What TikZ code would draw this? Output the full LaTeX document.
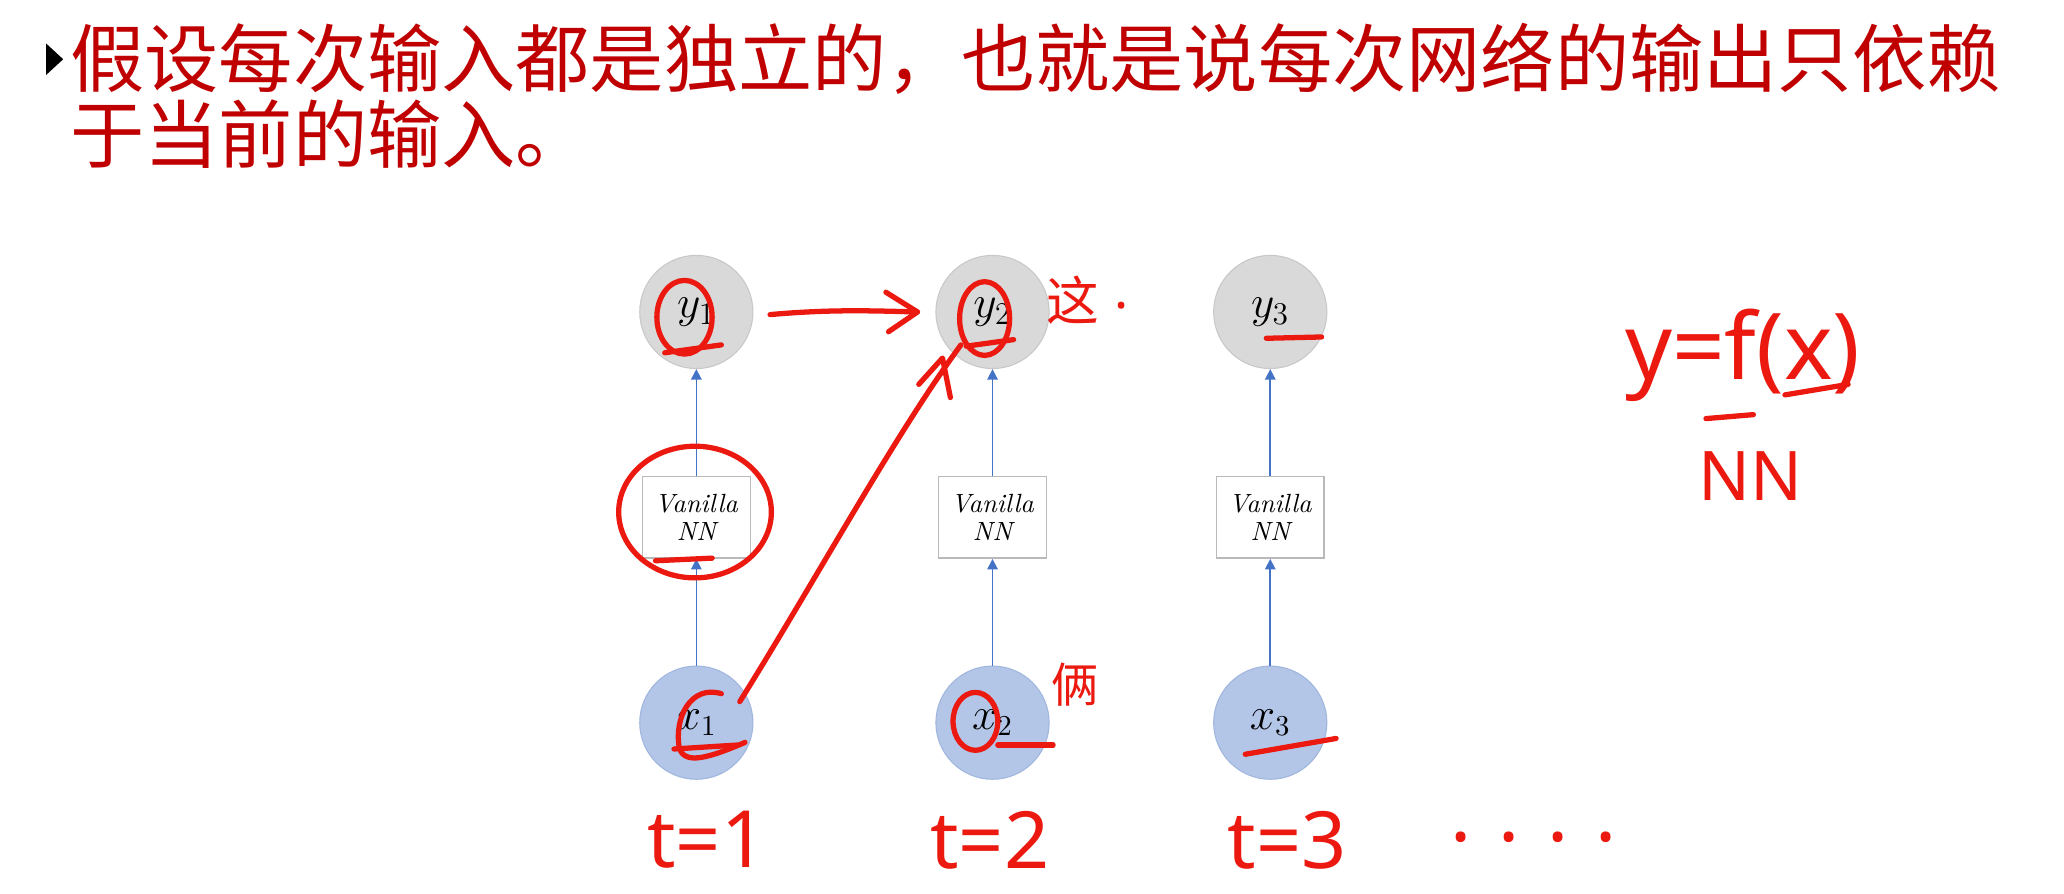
\documentclass[tikz,border=0pt]{standalone}
\usepackage{fontspec}
\newfontfamily\cjk{Noto Sans CJK SC}
\newfontfamily\hand{Noto Sans}
\usetikzlibrary{arrows.meta}
\definecolor{titlered}{RGB}{192,0,0}
\definecolor{penred}{RGB}{235,25,15}
\definecolor{yfill}{RGB}{217,217,217}
\definecolor{ydraw}{RGB}{200,200,200}
\definecolor{xfill}{RGB}{180,198,231}
\definecolor{xdraw}{RGB}{160,182,222}
\definecolor{flowblue}{RGB}{68,114,196}
\definecolor{boxdraw}{RGB}{185,185,185}
\tikzset{
  ynode/.style={circle,fill=yfill,draw=ydraw,line width=0.4pt,minimum size=43pt,inner sep=0pt,font=\fontsize{17}{17}\selectfont},
  xnode/.style={circle,fill=xfill,draw=xdraw,line width=0.4pt,minimum size=43pt,inner sep=0pt,font=\fontsize{16}{16}\selectfont},
  nnbox/.style={rectangle,draw=boxdraw,fill=white,line width=0.6pt,minimum width=41pt,minimum height=31pt,inner sep=0pt,align=center,font=\fontsize{10}{10.5}\selectfont\itshape},
  flow/.style={draw=flowblue,line width=0.6pt,-{Triangle[length=4pt,width=4pt]}},
  pen/.style={draw=penred,line width=2pt,line cap=round,line join=round},
  handtxt/.style={text=penred,inner sep=0pt},
  title/.style={text=titlered,anchor=west,inner sep=0pt,font=\cjk\fontsize{28.2}{28.2}\selectfont}
}
\begin{document}
\begin{tikzpicture}[x=0.5pt,y=-0.5pt]
\useasboundingbox[fill=white] (0,0) rectangle (1568,679);
% bullet and title
\fill[black] (35,33) -- (48,45) -- (35,57) -- cycle;
\node[title] (l1) at (53,45) {假设每次输入都是独立的，也就是说每次网络的输出只依赖};
\node[title] (l2) at (53,102) {于当前的输入。};
% diagram nodes
\foreach \i/\xx in {1/529,2/754,3/965}{
  \node[ynode] (y\i) at (\xx,237) {$y_{\i}$};
  \node[nnbox] (b\i) at (\xx,393) {Vanilla\\NN};
  \node[xnode] (x\i) at (\xx,549) {$x_{\i}$};
  \draw[flow] (x\i) -- (b\i);
  \draw[flow] (b\i) -- (y\i);
}
% handwritten annotations
\draw[pen] (520,241) ellipse [x radius=10.5pt, y radius=14pt];
\draw[pen] (505,268) -- (548,262);
\draw[pen] (585,239) .. controls (630,235) and (660,236) .. (697,237);
\draw[pen] (673,222) -- (697,237) -- (675,252);
\draw[pen] (748,242) ellipse [x radius=9.5pt, y radius=14pt];
\draw[pen] (734,263) -- (770,258);
\node[handtxt,font=\cjk\fontsize{20}{20}\selectfont] (zhe) at (815,228) {这};
\node[handtxt,font=\hand\fontsize{20}{20}\selectfont] (dot) at (852,232) {.};
\draw[pen] (562,533) .. controls (620,440) and (680,330) .. (730,262);
\draw[pen] (698,292) -- (716,272) -- (722,302);
\draw[pen] (528,389) ellipse [x radius=29pt, y radius=25pt];
\draw[pen] (498,426) -- (541,424);
\draw[pen] (548,527) .. controls (525,520) and (512,545) .. (516,568) .. controls (520,582) and (540,575) .. (566,564);
\draw[pen] (512,569) -- (560,566);
\draw[pen] (741,548) ellipse [x radius=8.5pt, y radius=11pt];
\draw[pen] (758,566) -- (800,566);
\node[handtxt,font=\cjk\fontsize{18}{18}\selectfont] (lia) at (817,520) {俩};
\draw[pen] (946,573) -- (1015,561);
\draw[pen] (962,257) -- (1004,256);
\node[handtxt,font=\hand\fontsize{30}{30}\selectfont] (t1) at (537,638) {t=1};
\node[handtxt,font=\hand\fontsize{30}{30}\selectfont] (t2) at (752,638) {t=2};
\node[handtxt,font=\hand\fontsize{30}{30}\selectfont] (t3) at (978,638) {t=3};
\node[handtxt,font=\hand\fontsize{30}{30}\selectfont] (dots) at (1165,636) {. . . .};
\node[handtxt,font=\hand\fontsize{35}{35}\selectfont] (eq) at (1324,270) {y=f(x)};
\draw[pen] (1296,318) -- (1332,315);
\draw[pen] (1356,300) -- (1404,292);
\node[handtxt,font=\hand\fontsize{26}{26}\selectfont] (nn) at (1330,362) {NN};
\end{tikzpicture}
\end{document}
